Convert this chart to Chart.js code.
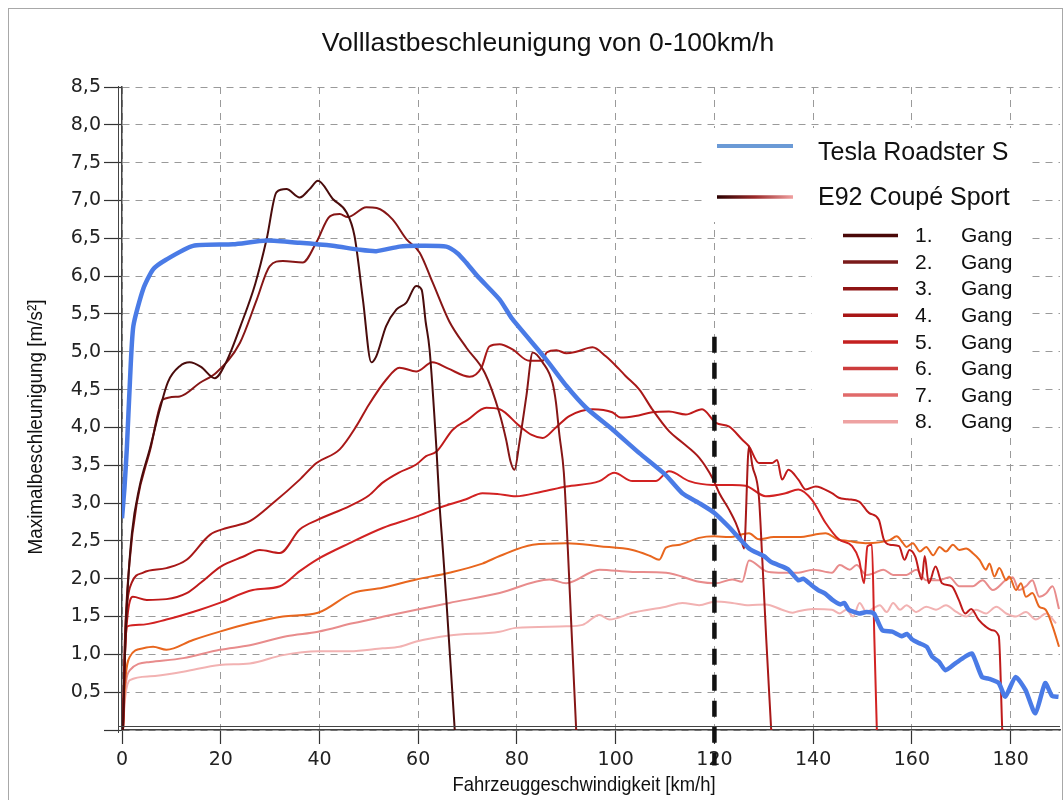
<!DOCTYPE html>
<html><head><meta charset="utf-8">
<script src="https://cdn.jsdelivr.net/npm/chart.js@4/dist/chart.umd.min.js"></script>
<style>html,body{margin:0;padding:0;background:#fff;}</style>
</head><body>
<canvas id="c" width="1064" height="800"></canvas>
<script>
const chartTitle = 'Volllastbeschleunigung von 0-100km/h';
const xAxisTitle = 'Fahrzeuggeschwindigkeit [km/h]';
const yAxisTitle = 'Maximalbeschleunigung [m/s²]';
const teslaLabel = 'Tesla Roadster S';
const bmwLabel = 'E92 Coupé Sport';
const gearNumbers = ['1.', '2.', '3.', '4.', '5.', '6.', '7.', '8.'];
const gearWord = 'Gang';
const xRange = [0, 190];
const xStep = 20;
const yRange = [0, 8.5];
const yStep = 0.5;

// reference marker at 120 km/h
const markerLine = [[120, 5.2], [120, -0.47]];

const tesla = [[0,2.8],[0.5,3.2],[1,3.75],[1.6,4.6],[2.3,5.34],[4.3,5.83],[6.3,6.09],[9,6.22],[14.4,6.4],[22.5,6.42],[29.3,6.47],[36,6.44],[42.7,6.4],[48,6.35],[51.5,6.33],[56.2,6.39],[60,6.4],[65.7,6.39],[68,6.3],[69.7,6.18],[72,6.0],[76.5,5.69],[79.1,5.43],[85.9,4.9],[90,4.55],[94,4.26],[99.4,3.97],[104.8,3.66],[110,3.38],[113.5,3.13],[116.9,3.0],[120,2.87],[123,2.68],[127,2.4],[130,2.3],[131.5,2.22],[133.8,2.16],[135,2.12],[137,1.98],[138,2.0],[139.2,1.94],[141,1.85],[142.5,1.8],[143.9,1.72],[145.5,1.66],[146.3,1.68],[147.2,1.59],[149.3,1.54],[150.8,1.56],[152.3,1.54],[154,1.32],[156,1.3],[158,1.24],[159,1.27],[160,1.2],[161.4,1.15],[163,1.1],[164.1,0.97],[165.5,0.9],[166.8,0.79],[168.8,0.88],[170.8,0.97],[172.2,1.01],[174.2,0.7],[175.5,0.68],[177.6,0.62],[178.9,0.44],[181,0.7],[183,0.53],[185,0.22],[187,0.62],[188.4,0.45],[189.7,0.44]];

const gear1 = [[0.2,0],[0.6,1.0],[1.1,1.8],[2,2.6],[3.5,3.2],[5.7,3.73],[7.5,4.2],[9.3,4.6],[11.7,4.81],[13.7,4.86],[16,4.8],[18.8,4.65],[21,4.85],[24,5.34],[27,5.9],[29.3,6.49],[31.3,7.11],[33.3,7.15],[36,7.04],[38,7.15],[39.7,7.26],[42.7,7.02],[45.5,6.84],[47.1,6.53],[48.8,5.69],[50.5,4.86],[51.5,4.94],[53.5,5.34],[55.6,5.56],[57.6,5.65],[59.6,5.87],[60.7,5.82],[61.5,5.4],[62.3,5.03],[63.7,3.71],[64.3,3.0],[65,2.38],[65.7,1.72],[67.4,0]];

const gear2 = [[0.2,0],[0.6,1.2],[1.5,2.2],[3,3.0],[5.7,3.7],[8.3,4.37],[11.7,4.41],[15.8,4.59],[19.2,4.73],[23.9,5.12],[27.3,5.69],[29.9,6.13],[32.6,6.2],[36.6,6.18],[39.4,6.45],[42.1,6.79],[44.1,6.82],[45.7,6.78],[49.5,6.91],[51.6,6.9],[54.8,6.75],[57.6,6.49],[60.3,6.31],[62.9,5.92],[66.3,5.4],[69.8,5.05],[73.5,4.72],[76.4,4.2],[77.8,3.84],[78.7,3.55],[79.5,3.44],[80.5,3.8],[81.9,4.41],[83.2,4.99],[85.2,4.86],[87.2,4.59],[87.9,4.33],[88.6,3.9],[89.5,3.4],[90.3,2.4],[91,1.4],[92,0]];

const gear3 = [[0.2,0],[0.6,1.2],[1.1,1.7],[2,1.95],[4.3,2.08],[9,2.14],[13.1,2.25],[17.8,2.58],[21.2,2.67],[25.9,2.76],[30.6,3.0],[36,3.31],[39.4,3.53],[44.1,3.71],[47.5,4.02],[50,4.3],[53.5,4.63],[56.2,4.79],[59.6,4.74],[62.9,4.86],[66,4.78],[70.4,4.67],[72.8,4.79],[74.4,5.07],[76.5,5.1],[79.1,5.03],[82.5,4.88],[85.2,4.88],[86,4.99],[88,5.02],[90,4.98],[92,5.0],[95.3,5.06],[98,4.94],[100.7,4.77],[102,4.68],[104.8,4.5],[107.4,4.24],[110.8,3.95],[113.5,3.8],[116.9,3.6],[119.6,3.33],[121,3.13],[123,2.91],[124.3,2.74],[125.3,2.56],[126,2.4],[127,3.75],[127.7,3.49],[129,3.09],[129.7,2.25],[130.5,1.2],[131.5,0]];

const gear4 = [[0.2,0],[0.6,1.0],[1.1,1.5],[2.2,1.76],[5,1.72],[9,1.73],[13.1,1.81],[16,1.95],[20,2.16],[24.5,2.29],[27.9,2.38],[32,2.34],[36,2.65],[39.7,2.78],[46.1,2.96],[50,3.1],[52.8,3.27],[56,3.4],[59.6,3.51],[61.6,3.62],[63.7,3.68],[67,3.97],[70,4.1],[73.8,4.26],[76.5,4.24],[80.5,4.02],[83,3.9],[85.2,3.86],[87.9,4.0],[90.6,4.15],[95.3,4.24],[99.3,4.2],[101,4.13],[104,4.15],[107.4,4.2],[110.8,4.21],[114.2,4.17],[117.5,4.24],[120.3,4.06],[123,4.01],[125.6,3.84],[127,3.75],[129,3.53],[131.7,3.53],[132.7,3.57],[133.7,3.31],[135,3.44],[137,3.31],[138.5,3.18],[140.5,3.22],[143.8,3.13],[145.2,3.07],[147,3.05],[149.3,3.02],[151.3,2.87],[153.3,2.78],[154.3,2.52],[155.5,2.45],[157.4,2.43],[158.5,2.25],[159.5,2.38],[160.7,2.29],[162,1.99],[162.6,2.3],[163.4,1.94],[164.8,2.16],[166.1,1.94],[168.1,1.9],[169.5,1.72],[170.8,1.54],[172,1.6],[173.5,1.46],[174.9,1.37],[176.2,1.32],[177.6,1.24],[178.3,0]];

const gear5 = [[0.2,0],[0.6,1.0],[1.1,1.37],[3.6,1.39],[9,1.46],[15.8,1.59],[19.8,1.68],[26.5,1.85],[32,1.9],[36,2.1],[39.4,2.25],[46.1,2.47],[52.8,2.67],[59.6,2.82],[64.3,2.94],[69.7,3.05],[73,3.13],[76,3.12],[79.8,3.09],[85,3.15],[90,3.22],[96.7,3.29],[99.7,3.4],[103.4,3.29],[108.1,3.29],[110.8,3.42],[114.9,3.29],[119.6,3.24],[123.6,3.24],[126.3,3.23],[130.4,3.09],[134.4,3.13],[137,3.18],[139.8,3.04],[142.5,2.74],[145.2,2.52],[147.9,2.43],[149.3,2.25],[150.3,1.94],[151,2.43],[151.9,2.45],[152.4,1.2],[152.9,0]];

const gear6 = [[0.2,0],[0.6,0.6],[1.6,0.97],[4.3,1.08],[6.3,1.1],[9,1.06],[14.4,1.19],[19.8,1.3],[25.9,1.41],[32.6,1.5],[39.7,1.55],[46.7,1.81],[52.8,1.88],[59.6,1.99],[66.3,2.08],[73,2.2],[76.5,2.3],[83.2,2.45],[90,2.47],[96.7,2.43],[103.4,2.38],[107,2.3],[108.8,2.25],[110.2,2.41],[113,2.45],[116.9,2.54],[120,2.56],[123,2.55],[127,2.6],[129,2.52],[132,2.55],[137,2.55],[142.5,2.6],[145,2.52],[147,2.5],[150.6,2.47],[155.5,2.51],[156.9,2.56],[158.2,2.47],[158.9,2.42],[160.2,2.47],[161.6,2.36],[162.9,2.42],[164.3,2.31],[165.6,2.42],[166.9,2.36],[168.3,2.45],[169.6,2.38],[171,2.4],[172.3,2.34],[173.7,2.25],[175,2.12],[175.7,2.2],[176.7,2.03],[177.7,2.14],[179.1,1.98],[179.7,2.03],[181.1,1.85],[182.1,1.94],[183.1,1.76],[184.4,1.81],[185.8,1.63],[187.1,1.59],[188.5,1.37],[189.8,1.1]];

const gear7 = [[0.2,0],[0.6,0.5],[1.6,0.79],[5.7,0.9],[12.4,0.95],[19.8,1.06],[25.9,1.12],[33.3,1.24],[39.7,1.3],[46.7,1.41],[53,1.5],[59.6,1.59],[66.3,1.68],[76.5,1.81],[86.6,1.99],[90,1.94],[96.7,2.12],[103.4,2.09],[110.2,2.08],[116.9,1.96],[120.3,1.94],[123.6,1.99],[125.6,1.96],[127,2.24],[130.4,2.1],[133,2.08],[137,2.08],[140,2.12],[143.8,2.08],[145.4,2.18],[147.4,2.12],[148.8,2.18],[150.8,2.05],[152.2,2.07],[154.2,2.12],[156.2,2.05],[158.9,2.05],[160.9,2.12],[162.9,1.98],[165.6,1.98],[167.6,2.02],[169.6,1.9],[172.3,1.9],[174.3,1.98],[176.4,1.85],[179,1.98],[180.4,2.02],[181.7,1.85],[183.1,1.9],[184.4,1.98],[185.8,1.76],[187.1,1.8],[188.5,1.9],[189.8,1.6]];

const gear8 = [[0.2,0],[0.6,0.4],[1.6,0.66],[5.7,0.71],[12.4,0.77],[19.8,0.86],[25.9,0.88],[32.6,0.99],[39.7,1.04],[46.1,1.04],[52.8,1.08],[56.2,1.1],[59.6,1.17],[66.3,1.25],[76.5,1.3],[79.8,1.35],[90,1.37],[93.3,1.39],[96.7,1.52],[98.7,1.46],[103.4,1.55],[110.2,1.63],[113.5,1.68],[116.9,1.65],[120.3,1.7],[123.6,1.68],[127,1.65],[130.4,1.66],[133.7,1.59],[135.8,1.55],[137,1.57],[140,1.6],[143.8,1.59],[145.4,1.54],[146.7,1.59],[148.1,1.5],[149.4,1.68],[150.8,1.56],[152.2,1.61],[153.5,1.65],[154.9,1.56],[156.2,1.68],[157.6,1.59],[158.9,1.65],[160.9,1.56],[162.9,1.63],[164.9,1.59],[166.9,1.65],[169,1.56],[171,1.5],[173,1.59],[175,1.54],[177.1,1.63],[179.1,1.54],[181.1,1.5],[183.1,1.56],[185.1,1.46],[187.2,1.54],[189.2,1.41]];

const gearSeries = [gear1, gear2, gear3, gear4, gear5, gear6, gear7, gear8];

// styles
const gearLineColors = ['#4a0c0c', '#861616', '#a81818', '#bf1a1a', '#d22222', '#e8661e', '#e88c8c', '#f2b2b2'];
const gearLegendColors = ['#4a0808', '#7a1a1a', '#8e1414', '#a81616', '#c42020', '#cc3c3c', '#e06a6a', '#eea2a2'];
const teslaColor = '#4a7be6';

const toPts = arr => arr.map(p => ({x: p[0], y: p[1]}));

const datasets = [
  {label: 'marker', data: toPts(markerLine), borderColor: '#111', borderWidth: 4.5, borderDash: [16, 10], pointRadius: 0, clip: false, tension: 0},
  {label: teslaLabel, data: toPts(tesla), borderColor: teslaColor, borderWidth: 4.5, pointRadius: 0, tension: 0.2, borderJoinStyle: 'round'}
];
gearSeries.forEach((g, i) => {
  datasets.push({label: gearNumbers[i] + ' ' + gearWord, data: toPts(g), borderColor: gearLineColors[i], borderWidth: 2, pointRadius: 0, cubicInterpolationMode: 'monotone'});
});

const decor = {
  id: 'decor',
  beforeDraw(chart) {
    const ctx = chart.ctx;
    ctx.save();
    ctx.fillStyle = '#fff';
    ctx.fillRect(0, 0, chart.width, chart.height);
    ctx.restore();
  },
  afterDraw(chart) {
    const ctx = chart.ctx;
    const a = chart.chartArea;
    ctx.save();
    // second axis lines
    ctx.strokeStyle = '#444';
    ctx.lineWidth = 1;
    ctx.beginPath();
    ctx.moveTo(118.5, a.top - 1); ctx.lineTo(118.5, a.bottom + 3);
    ctx.moveTo(a.left - 4, a.bottom - 3.5); ctx.lineTo(a.right, a.bottom - 3.5);
    ctx.stroke();
    // outer frame
    ctx.strokeStyle = '#a8a8a8';
    ctx.strokeRect(8.5, 8.5, 1054, 800);

    // title
    ctx.fillStyle = '#111';
    ctx.textAlign = 'center';
    ctx.textBaseline = 'alphabetic';
    ctx.font = '26.5px "Liberation Sans", Arial, sans-serif';
    ctx.fillText(chartTitle, 548, 51);

    // axis titles (condensed)
    const condensed = (text, cx, cy, len, rot) => {
      ctx.save();
      ctx.font = '21px "Liberation Sans Narrow", "Liberation Sans", Arial, sans-serif';
      const w = ctx.measureText(text).width;
      ctx.translate(cx, cy);
      if (rot) ctx.rotate(-Math.PI / 2);
      ctx.scale(len / w, 1);
      ctx.textAlign = 'center';
      ctx.textBaseline = 'middle';
      ctx.fillStyle = '#111';
      ctx.fillText(text, 0, 0);
      ctx.restore();
    };
    condensed(yAxisTitle, 36, 427, 255, true);
    condensed(xAxisTitle, 584, 785, 263, false);

    // legend
    ctx.fillStyle = '#fff';
    ctx.fillRect(705, 128, 326, 94);
    ctx.fillRect(812, 222, 219, 215);
    ctx.lineCap = 'butt';
    ctx.lineWidth = 4;
    ctx.strokeStyle = '#6b9ad6';
    ctx.beginPath(); ctx.moveTo(717, 146); ctx.lineTo(793, 146); ctx.stroke();
    const grad = ctx.createLinearGradient(717, 0, 793, 0);
    grad.addColorStop(0, '#2a0000');
    grad.addColorStop(0.5, '#9b2a2a');
    grad.addColorStop(1, '#f0a0a0');
    ctx.strokeStyle = grad;
    ctx.lineWidth = 3.5;
    ctx.beginPath(); ctx.moveTo(717, 197); ctx.lineTo(793, 197); ctx.stroke();
    ctx.fillStyle = '#111';
    ctx.textAlign = 'left';
    ctx.textBaseline = 'alphabetic';
    ctx.font = '25px "Liberation Sans", Arial, sans-serif';
    ctx.fillText(teslaLabel, 818, 160);
    ctx.fillText(bmwLabel, 818, 205);
    ctx.font = '21px "Liberation Sans", Arial, sans-serif';
    gearNumbers.forEach((n, i) => {
      const y = 235.5 + i * 26.6;
      ctx.strokeStyle = gearLegendColors[i];
      ctx.lineWidth = 3.5;
      ctx.beginPath(); ctx.moveTo(843, y); ctx.lineTo(898, y); ctx.stroke();
      ctx.fillStyle = '#111';
      ctx.textBaseline = 'middle';
      ctx.fillText(n, 915, y + 1);
      ctx.fillText(gearWord, 961, y + 1);
    });
    ctx.restore();
  }
};

new Chart(document.getElementById('c'), {
  type: 'line',
  data: {datasets},
  options: {
    responsive: false,
    devicePixelRatio: 1,
    animation: false,
    layout: {padding: {top: 87, right: 4, left: 0, bottom: 0}},
    plugins: {legend: {display: false}, title: {display: false}, tooltip: {enabled: false}},
    elements: {line: {borderCapStyle: 'butt'}},
    scales: {
      x: {
        type: 'linear', min: xRange[0], max: xRange[1],
        afterFit: s => { s.height = 70; },
        ticks: {stepSize: xStep, includeBounds: false, autoSkip: false, maxRotation: 0, padding: 5, color: '#222', font: {family: '"DejaVu Sans", Verdana, sans-serif', size: 19}},
        grid: {color: '#9a9a9a', lineWidth: 1, tickLength: 14, tickColor: '#333', tickWidth: 1.2, tickBorderDash: []},
        border: {display: true, color: '#444', width: 1.5, dash: [7, 6]}
      },
      y: {
        min: yRange[0], max: yRange[1],
        afterFit: s => { s.width = 122; },
        ticks: {stepSize: yStep, padding: 3, color: '#222', font: {family: '"DejaVu Sans", Verdana, sans-serif', size: 19},
          callback: v => v === 0 ? '' : v.toFixed(1).replace('.', ',')},
        grid: {color: '#9a9a9a', lineWidth: 1, tickLength: 18, tickColor: '#333', tickWidth: 1.2, tickBorderDash: []},
        border: {display: true, color: '#444', width: 1.5, dash: [7, 6]}
      }
    }
  },
  plugins: [decor]
});
</script>
</body></html>
